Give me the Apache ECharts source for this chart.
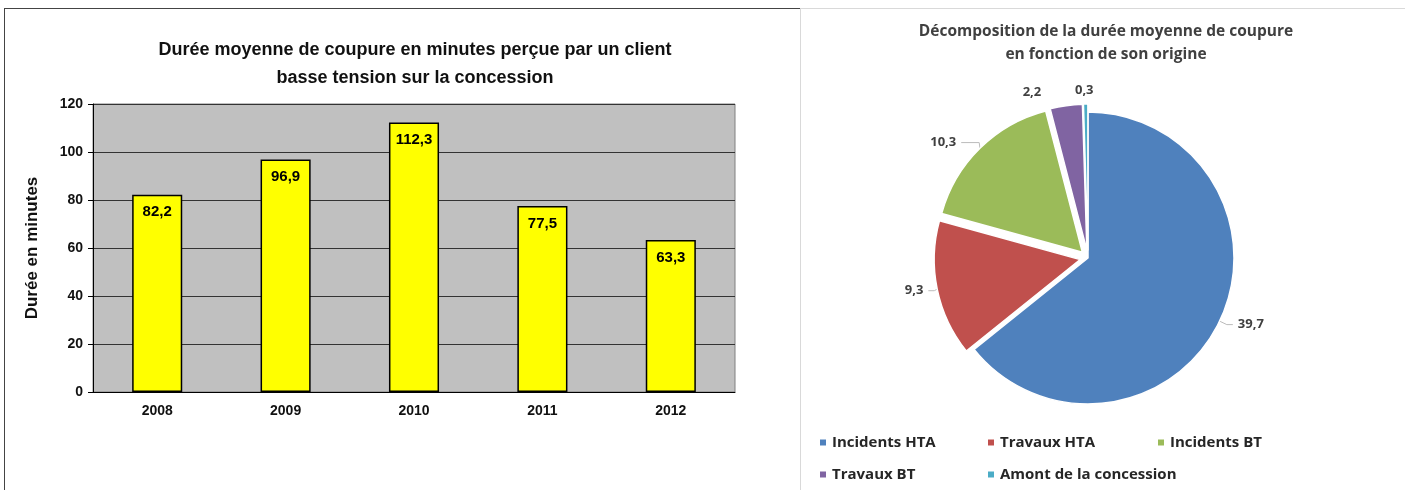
<!DOCTYPE html>
<html>
<head>
<meta charset="utf-8">
<script src="https://cdn.jsdelivr.net/npm/echarts@6/dist/echarts.min.js"></script>
<style>
  body { margin: 0; background: #fff; width: 1405px; height: 490px; overflow: hidden; position: relative; }
  #bar { position: absolute; left: 4px; top: 8px; width: 795px; height: 482px; border: 1px solid #444; border-bottom: none; }
  #pie { position: absolute; left: 800px; top: 8px; width: 604px; height: 482px; border: 1px solid #d9d9d9; border-bottom: none; }
</style>
</head>
<body>
<div id="bar"></div>
<div id="pie"></div>
<script>
// bar chart data
const years = ['2008', '2009', '2010', '2011', '2012'];
const durations = [82.2, 96.9, 112.3, 77.5, 63.3];

// pie chart data
const origins = ['Incidents HTA', 'Travaux HTA', 'Incidents BT', 'Travaux BT', 'Amont de la concession'];
const originValues = [39.7, 9.3, 10.3, 2.2, 0.3];
const originColors = ['#4F81BD', '#C0504D', '#9BBB59', '#8064A2', '#4BACC6'];

const frNum = v => String(v).replace('.', ',');

const barChart = echarts.init(document.getElementById('bar'));
barChart.setOption({
    animation: false,
    title: {
        text: 'Durée moyenne de coupure en minutes perçue par un client\nbasse tension sur la concession',
        left: 405,
        top: 22,
        textAlign: 'center',
        textStyle: {
            fontFamily: '"Liberation Sans Narrow", "Liberation Sans", sans-serif',
            fontWeight: 'bold',
            fontSize: 18,
            lineHeight: 28,
            color: '#111',
        },
    },
    grid: {
        left: 88,
        right: 65,
        top: 95,
        bottom: 99,
        show: true,
        backgroundColor: '#C0C0C0',
        borderColor: '#808080',
        borderWidth: 1,
    },
    xAxis: {
        type: 'category',
        data: years,
        axisLine: {lineStyle: {color: '#000'}},
        axisTick: {show: false},
        axisLabel: {
            margin: 12,
            fontFamily: '"Liberation Sans", Arial, sans-serif',
            fontWeight: 'bold',
            fontSize: 14,
            color: '#111',
        },
    },
    yAxis: {
        type: 'value',
        min: 0,
        max: 120,
        interval: 20,
        name: 'Durée en minutes',
        nameLocation: 'middle',
        nameGap: 52,
        nameTextStyle: {
            fontFamily: '"Liberation Sans", Arial, sans-serif',
            fontWeight: 'bold',
            fontSize: 17,
            color: '#111',
        },
        axisLine: {show: true, lineStyle: {color: '#000'}},
        axisTick: {show: true, length: 5, lineStyle: {color: '#000'}},
        splitLine: {lineStyle: {color: '#333', width: 1}},
        axisLabel: {
            margin: 10,
            fontFamily: '"Liberation Sans", Arial, sans-serif',
            fontWeight: 'bold',
            fontSize: 14,
            color: '#111',
        },
    },
    series: [{
        type: 'bar',
        data: durations,
        barWidth: '39%',
        itemStyle: {color: '#FFFF00', borderColor: '#000', borderWidth: 1.5},
        label: {
            show: true,
            position: 'insideTop',
            distance: 10,
            formatter: p => frNum(p.value),
            fontFamily: '"Liberation Sans", Arial, sans-serif',
            fontWeight: 'bold',
            fontSize: 15,
            color: '#000',
        },
    }],
});

// legend slots: [left, top] inside the pie panel
const legendSlots = [[12, 421], [180, 421], [350, 421], [12, 453], [180, 453]];
// nudges for the two tiny slices' labels, which sit just above the pie
const labelNudge = {3: [27, -19], 4: [19, -6]};

const pieChart = echarts.init(document.getElementById('pie'));
pieChart.setOption({
    animation: false,
    title: {
        text: 'Décomposition de la durée moyenne de coupure\nen fonction de son origine',
        left: 300,
        top: 6,
        textAlign: 'center',
        textStyle: {
            fontFamily: '"Open Sans", "Noto Sans", sans-serif',
            fontWeight: 'bold',
            fontSize: 15.5,
            lineHeight: 23,
            color: '#404040',
        },
    },
    legend: origins.map((name, i) => ({
        data: [name],
        left: legendSlots[i][0],
        top: legendSlots[i][1],
        itemWidth: 8,
        itemHeight: 8,
        icon: 'rect',
        selectedMode: false,
        textStyle: {
            fontFamily: '"Open Sans", "Noto Sans", sans-serif',
            fontWeight: 'bold',
            fontSize: 15,
            color: '#262626',
        },
    })),
    series: [{
        type: 'pie',
        center: [287, 249],
        radius: 146,
        startAngle: 90,
        clockwise: true,
        selectedMode: 'multiple',
        selectedOffset: 8,
        itemStyle: {borderColor: '#fff', borderWidth: 1.5},
        label: {
            formatter: p => frNum(p.value),
            fontFamily: '"Open Sans", "Noto Sans", sans-serif',
            fontWeight: 'bold',
            fontSize: 13,
            color: '#404040',
        },
        labelLine: {length: 8, length2: 6, lineStyle: {color: '#bbb'}},
        labelLayout: p => {
            const n = labelNudge[p.dataIndex];
            return n ? {dx: n[0], dy: n[1]} : {};
        },
        data: origins.map((name, i) => ({
            name,
            value: originValues[i],
            selected: i > 0,
            itemStyle: {color: originColors[i]},
            labelLine: i > 2 ? {show: false} : (i === 2 ? {length2: 18} : undefined),
        })),
    }],
});
</script>
</body>
</html>
